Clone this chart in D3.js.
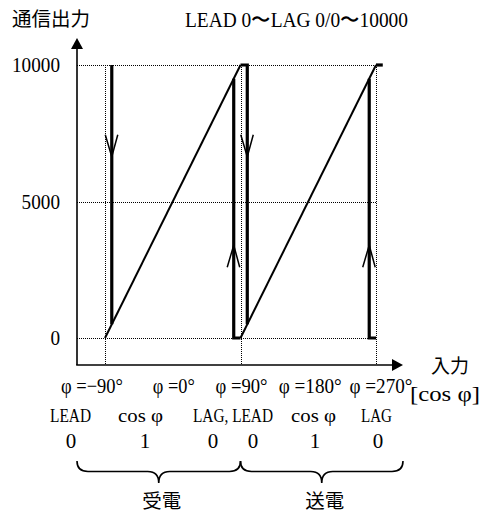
<!DOCTYPE html>
<html>
<head>
<meta charset="utf-8">
<script src="https://cdn.jsdelivr.net/npm/d3@7"></script>
<style>
  html, body { margin: 0; padding: 0; background: #fff; }
  svg { display: block; }
  .lat { font-family: "Liberation Serif", "DejaVu Serif", serif; fill: #000; }
  .cjk { font-family: "Noto Sans CJK JP", sans-serif; fill: #000; }
</style>
</head>
<body>
<script>
// ---------------- data ----------------
const titleText = "LEAD 0〜LAG 0/0〜10000";
const yAxisTitle = "通信出力";
const xAxisTitle = "入力";
const xUnitText = "[cos φ]";
const yTicks = [0, 5000, 10000];
const phiGrid = [-90, 90, 270];
const phiTicks = [-90, 0, 90, 180, 270];
const phiLabels = ["φ =−90°", "φ =0°", "φ =90°", "φ =180°", "φ =270°"];
const pfNames = ["LEAD", "cos φ", "LAG, LEAD", "cos φ", "LAG"];
const pfValues = ["0", "1", "0", "0", "1", "0"];
const sideLabels = ["受電", "送電"];

// ramps: [phi (deg), output]
const rampReceive = [[-90, 0], [90, 10000]];
const rampSend = [[90, 0], [270, 10000]];
// thick switching segments
const stepSegments = [
  [[-81, 10000], [-81, 500]],
  [[81, 9500], [81, 0], [90, 0]],
  [[90, 10000], [99, 10000], [99, 500]],
  [[261, 9500], [261, 0], [270, 0]],
  [[270, 10000], [279, 10000]]
];
// direction arrows on switching segments
const arrowPhi = [-81, 99, 81, 261];
const arrowValue = [6640, 6640, 3400, 3400];
const arrowDir = ["down", "down", "up", "up"];

// ---------------- layout ----------------
const W = 490, H = 513;
const axisX = 77, axisY = 365, yAxisTop = 38, xAxisEnd = 403;
const FS = "21px";

const svg = d3.select("body").append("svg").attr("width", W).attr("height", H);

const x = d3.scaleLinear().domain([-90, 270]).range([105, 376]);
const y = d3.scaleLinear().domain([0, 10000]).range([338, 65]);

// dotted grid lines
const grid = svg.append("g").attr("stroke", "#000").attr("stroke-width", 1)
  .attr("stroke-dasharray", "1,1").attr("shape-rendering", "crispEdges");
grid.selectAll("line.h").data(yTicks).join("line").attr("class", "h")
  .attr("x1", axisX).attr("x2", x(270))
  .attr("y1", d => Math.round(y(d)) + 0.5).attr("y2", d => Math.round(y(d)) + 0.5);
grid.selectAll("line.v").data(phiGrid).join("line").attr("class", "v")
  .attr("x1", d => Math.round(x(d)) + 0.5).attr("x2", d => Math.round(x(d)) + 0.5)
  .attr("y1", y(10000)).attr("y2", axisY);

// axes with arrows
svg.append("line").attr("x1", axisX).attr("x2", axisX).attr("y1", axisY).attr("y2", yAxisTop + 8)
  .attr("stroke", "#000").attr("stroke-width", 1.6);
svg.append("path").attr("d", `M${axisX},${yAxisTop} L${axisX - 6},${yAxisTop + 11} L${axisX + 6},${yAxisTop + 11} Z`)
  .attr("fill", "#000");
svg.append("line").attr("x1", axisX - 0.8).attr("x2", xAxisEnd - 8).attr("y1", axisY).attr("y2", axisY)
  .attr("stroke", "#000").attr("stroke-width", 1.6);
svg.append("path").attr("d", `M${xAxisEnd},${axisY} L${xAxisEnd - 11},${axisY - 6} L${xAxisEnd - 11},${axisY + 6} Z`)
  .attr("fill", "#000");

// y tick labels via d3 axis
const yAx = svg.append("g").attr("transform", `translate(${axisX},0)`)
  .call(d3.axisLeft(y).tickValues(yTicks).tickSize(0).tickPadding(17).tickFormat(d3.format("d")));
yAx.select(".domain").remove();
yAx.selectAll("text").attr("class", "lat").style("font-size", FS)
  .style("font-family", "'Liberation Serif', serif").attr("fill", "#000").attr("dy", "0.33em")
  .attr("textLength", d => String(d).length * 9.6).attr("lengthAdjust", "spacingAndGlyphs");

// ramps
const line = d3.line().x(d => x(d[0])).y(d => y(d[1]));
svg.selectAll("path.ramp").data([rampReceive, rampSend]).join("path").attr("class", "ramp")
  .attr("d", line).attr("fill", "none").attr("stroke", "#000").attr("stroke-width", 2);
// thick step segments
svg.selectAll("path.step").data(stepSegments).join("path").attr("class", "step")
  .attr("d", line).attr("fill", "none").attr("stroke", "#000").attr("stroke-width", 3.2)
  .attr("stroke-linejoin", "miter").attr("stroke-linecap", "butt");

// arrows (open V)
svg.selectAll("path.arrow").data(arrowPhi.map((p, i) => ({ p, v: arrowValue[i], d: arrowDir[i] })))
  .join("path").attr("class", "arrow")
  .attr("d", a => {
    const tx = x(a.p), ty = y(a.v), s = a.d === "down" ? -1 : 1;
    return `M${tx - 6.5},${ty + s * 22} L${tx},${ty} L${tx + 6},${ty + s * 22}`;
  })
  .attr("fill", "none").attr("stroke", "#000").attr("stroke-width", 1.5);

// titles
svg.append("text").attr("class", "cjk").attr("x", 12).attr("y", 26)
  .style("font-size", "19.5px").text(yAxisTitle);
svg.append("text").attr("class", "lat").attr("x", 185).attr("y", 27)
  .attr("textLength", 223).attr("lengthAdjust", "spacingAndGlyphs")
  .style("font-size", FS).text(titleText);
svg.append("text").attr("class", "cjk").attr("x", 431).attr("y", 373)
  .style("font-size", "19px").text(xAxisTitle);
svg.append("text").attr("class", "lat").attr("x", 410).attr("y", 401)
  .attr("textLength", 70).attr("lengthAdjust", "spacingAndGlyphs")
  .style("font-size", FS).text(xUnitText);

// phi labels (row 1)
const phiDx = [-13, 1, 1, 2, 5];
const phiW = [62, 42, 52, 63, 63];
svg.selectAll("text.phi").data(phiTicks).join("text").attr("class", "lat phi")
  .attr("x", (d, i) => x(d) + phiDx[i] - phiW[i] / 2).attr("y", 393)
  .attr("textLength", (d, i) => phiW[i]).attr("lengthAdjust", "spacingAndGlyphs")
  .style("font-size", FS).text((d, i) => phiLabels[i]);

// power factor names (row 2)
const pfX = [50, 118, 193, 291, 361];
const pfW = [41, 45, 80, 45, 31];
svg.selectAll("text.pfn").data(pfNames).join("text").attr("class", "lat pfn")
  .attr("x", (d, i) => pfX[i]).attr("y", 422)
  .attr("textLength", (d, i) => pfW[i]).attr("lengthAdjust", "spacingAndGlyphs")
  .style("font-size", "18px").text(d => d);

// power factor values (row 3)
const pvX = [71, 145, 213, 253, 315, 378];
svg.selectAll("text.pfv").data(pfValues).join("text").attr("class", "lat pfv")
  .attr("x", (d, i) => pvX[i]).attr("y", 448).attr("text-anchor", "middle")
  .style("font-size", FS).text(d => d);

// braces
const braceTop = 461, braceMid = 471.5, braceTip = 483, r = 11;
const braceSpans = [[axisX, x(90)], [x(90), xAxisEnd]];
function bracePath(x0, x1) {
  const xc = (x0 + x1) / 2;
  return `M${x0},${braceTop} Q${x0},${braceMid} ${x0 + r},${braceMid} L${xc - r},${braceMid} ` +
    `Q${xc},${braceMid} ${xc},${braceTip} Q${xc},${braceMid} ${xc + r},${braceMid} ` +
    `L${x1 - r},${braceMid} Q${x1},${braceMid} ${x1},${braceTop}`;
}
svg.selectAll("path.brace").data(braceSpans).join("path").attr("class", "brace")
  .attr("d", d => bracePath(d[0], d[1])).attr("fill", "none").attr("stroke", "#000").attr("stroke-width", 1.6);

svg.selectAll("text.side").data(sideLabels).join("text").attr("class", "cjk side")
  .attr("x", (d, i) => (braceSpans[i][0] + braceSpans[i][1]) / 2 + 3).attr("y", 508)
  .attr("text-anchor", "middle").style("font-size", "19.5px").text(d => d);
</script>
</body>
</html>
